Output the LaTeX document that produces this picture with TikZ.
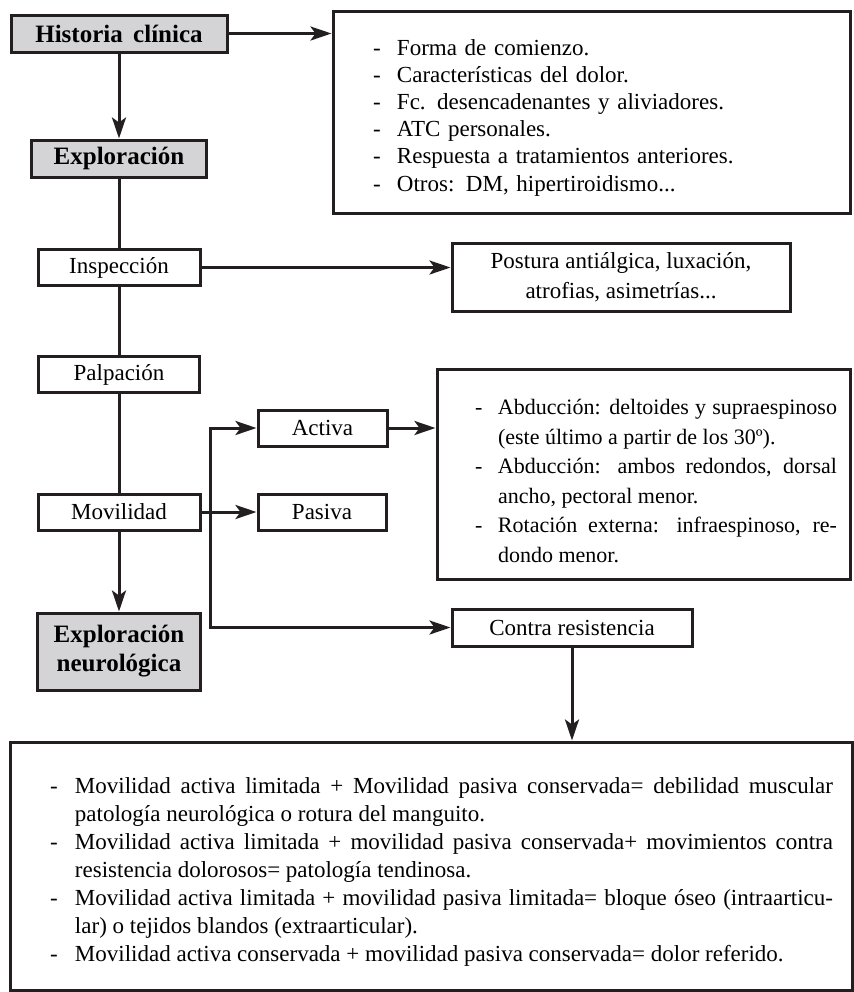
\documentclass[tikz,border=0pt]{standalone}
\usepackage{fontspec}
\setmainfont{Liberation Serif}
\usetikzlibrary{arrows.meta}

\definecolor{tinta}{RGB}{35,31,32}
\definecolor{grisclaro}{RGB}{212,212,214}

% un guion con sangria francesa
\newcommand{\guion}[2][11.5pt]{\par\noindent\hangindent=#1\hangafter=1\makebox[#1][l]{-}#2\par}

\begin{document}
\begin{tikzpicture}[x=0.5pt,y=-0.5pt,
    >={Stealth[length=10.5pt,width=7pt,inset=2.5pt]},
    caja/.style={draw=tinta,line width=1.5pt,inner sep=0pt,minimum height=18pt,
                 font=\fontsize{11.5}{14}\selectfont},
    gris/.style={caja,fill=grisclaro,font=\fontsize{12.5}{14.5}\selectfont\bfseries},
    flecha/.style={->,draw=tinta,line width=1.5pt},
    linea/.style={draw=tinta,line width=1.5pt}]
    \useasboundingbox (0,0) rectangle (853,992);

    \node[gris,minimum width=108pt,minimum height=18.5pt] (historia) at (119,33.5) {Historia\ \,clínica};
    \node[gris,minimum width=87.5pt,minimum height=18.5pt] (exploracion) at (119,158.5) {Exploración};
    \node[caja,minimum width=81pt] (inspeccion) at (119,267.5) {Inspección};
    \node[caja,minimum width=80.5pt] (palpacion) at (119,374.5) {Palpación};
    \node[caja,minimum width=81pt] (movilidad) at (119,512) {Movilidad};
    \node[gris,minimum width=81.5pt,minimum height=38.5pt,align=center] (neuro) at (119,651.5) {Exploración\\neurológica};

    \node[caja,minimum width=258.5pt,minimum height=101pt,text width=218.5pt,inner xsep=20pt,
          align=left,font=\fontsize{11.5}{13.6}\selectfont] (anamnesis) at (591.5,112) {%
        \guion[12pt]{Forma de comienzo.}
        \guion[12pt]{Características del dolor.}
        \guion[12pt]{Fc. desencadenantes y aliviadores.}
        \guion[12pt]{ATC personales.}
        \guion[12pt]{Respuesta a tratamientos anteriores.}
        \guion[12pt]{Otros: DM, hipertiroidismo...}
        \vspace*{8pt}};

    \node[caja,minimum width=169pt,minimum height=34pt,align=center,
          font=\fontsize{11.5}{15}\selectfont] (postura) at (621,277) {Postura antiálgica, luxación,\\atrofias, asimetrías...};

    \node[caja,minimum width=64.5pt] (activa) at (322.5,428) {Activa};
    \node[caja,minimum width=64pt] (pasiva) at (322,512) {Pasiva};
    \node[caja,minimum width=120pt,minimum height=18.5pt] (contra) at (572,627.5) {Contra resistencia};

    \node[caja,minimum width=206.5pt,minimum height=105pt,text width=193.5pt,inner xsep=6.5pt,
          align=justify,font=\fontsize{11}{14.75}\selectfont] (musculos) at (643.5,474) {%
        \leftskip=12.5pt
        \guion{Abducción: deltoides y supraespinoso\linebreak (este último a partir de los 30º).}
        \guion{Abducción: ambos redondos, dorsal\linebreak ancho, pectoral menor.}
        \guion{Rotación externa: infraespinoso, re-\linebreak dondo menor.}
        \vspace*{4pt}};

    \node[caja,minimum width=421pt,minimum height=124pt,text width=402pt,inner xsep=9.5pt,
          align=justify,font=\fontsize{11.5}{14}\selectfont] (resultado) at (431,866) {%
        \leftskip=10.5pt
        \guion[12.5pt]{Movilidad activa limitada + Movilidad pasiva conservada= debilidad muscular\linebreak patología neurológica o rotura del manguito.}
        \guion[12.5pt]{Movilidad activa limitada + movilidad pasiva conservada+ movimientos contra\linebreak resistencia dolorosos= patología tendinosa.}
        \guion[12.5pt]{Movilidad activa limitada + movilidad pasiva limitada= bloque óseo (intraarticu-\linebreak lar) o tejidos blandos (extraarticular).}
        \guion[12.5pt]{Movilidad activa conservada + movilidad pasiva conservada= dolor referido.}};

    \coordinate (rama) at (210,512);

    \draw[flecha] (historia.east) -- (historia.east -| anamnesis.west);
    \draw[flecha] (historia) -- (exploracion);
    \draw[linea] (exploracion) -- (inspeccion);
    \draw[linea] (inspeccion) -- (palpacion);
    \draw[linea] (palpacion) -- (movilidad);
    \draw[flecha] (movilidad) -- (neuro);
    \draw[flecha] (inspeccion.east) -- (inspeccion.east -| postura.west);
    \draw[flecha] (movilidad) -- (pasiva);
    \draw[flecha] (rama) |- (activa.west);
    \draw[flecha] (rama) |- (contra.west);
    \draw[flecha] (activa.east) -- (activa.east -| musculos.west);
    \draw[flecha] (contra) -- (contra |- resultado.north);
\end{tikzpicture}
\end{document}
